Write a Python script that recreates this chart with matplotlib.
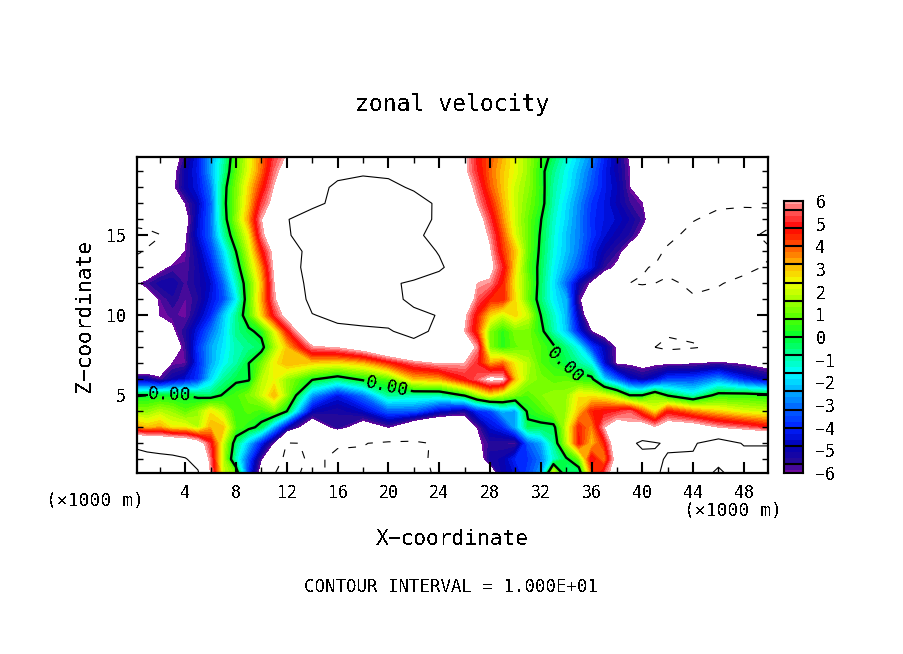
#!/usr/bin/env python3
# zonal velocity cross section
import numpy as np
import matplotlib
matplotlib.use('Agg')
import matplotlib.pyplot as plt
from matplotlib.colors import BoundaryNorm, LinearSegmentedColormap

plt.rcParams['font.family'] = 'DejaVu Sans Mono'
plt.rcParams['text.antialiased'] = False

x_km = list(range(0, 51, 2))
z_km = list(range(20, -1, -1))

# one row per height, top row is z=20
u_rows = [
  [-8.5,-7.5,-5.6,-2.6,0.7,3.7,6.1,7.2,8,8.5,8.5,8,7.5,6.3,4,2.3,0.6,-1.2,-2.8,-5,-7,-8,-8.5,-9,-9,-9],
  [-8.6,-7.6,-5,-2.5,0.9,3.8,6.8,8,9.3,9.6,9.5,9,8,6.3,3.8,2.3,0.3,-1.5,-3.2,-5,-7,-8,-8.7,-9.2,-9.2,-9.2],
  [-8.7,-7.6,-5,-3,1.2,4.4,7.5,9,10.5,11,10.6,9.7,8.5,7,4,2,0.4,-1.6,-3.4,-4.8,-7.5,-8.3,-8.9,-9.4,-9.5,-9.5],
  [-9,-8,-6,-3.3,1.2,5.2,7.5,9.5,10.5,11.5,11.5,11,9.6,7,4.6,2,0.4,-1.9,-3.8,-4.9,-6,-8,-9,-9.7,-9.8,-9.8],
  [-9.5,-8.5,-6.6,-3.2,1.4,6,9.9,11,12,12,12,11.2,9.5,8,5.2,2,0.05,-2,-3.9,-4.6,-5.7,-8,-9.9,-10.5,-10.6,-10.5],
  [-10.5,-10.1,-6.2,-3.2,0.8,5.6,9.8,11,12,12,12,10.5,9.2,7.5,5.8,2.2,-0.1,-2.2,-3.8,-5,-6.4,-9.5,-10.6,-11,-10.5,-9.6],
  [-10.2,-9.2,-6,-3.7,0,4.5,8.5,11,12,12,12,11.5,9.8,7.5,6.2,3,-0.2,-2.2,-4.2,-5.6,-8,-10.3,-11,-11,-10.3,-10.2],
  [-9.5,-6.4,-5.8,-4.2,-0.6,3.5,8.8,11,12,12,12,12,10.5,8,6.5,2.7,-0.3,-2.5,-4.3,-6.3,-9.9,-10.3,-10.3,-10.6,-10.4,-9.8],
  [-6.3,-5.2,-5.7,-4.6,-1.2,3,8,11,12,12,10.5,9.5,8.5,7.5,5.8,2.5,-0.4,-3.2,-6.3,-9.7,-10.1,-9.8,-10.2,-10.1,-9.6,-9.5],
  [-8,-5.9,-5.9,-4.4,-1.8,3.2,7.5,10.8,12,12,10.7,9.5,8.5,7.5,4.5,2.7,-0.5,-2.4,-7.5,-9.6,-9,-9,-9.9,-9.6,-9.3,-9.2],
  [-9,-6,-6,-4,-0.8,2.8,6.6,9.9,10.5,10.6,10.4,10.5,9.9,6.3,2.8,2.8,0,-2.3,-7.5,-9.3,-9.3,-9.2,-9.2,-9.1,-9,-8.9],
  [-9,-6.5,-5.4,-3.1,-0.7,0.3,4.5,8.5,9.5,9.7,9.9,10.4,9.7,6,1.3,1.2,0.3,-2.2,-6,-8.5,-9.5,-9.6,-9.5,-9,-8.8,-8.5],
  [-9,-8,-5.7,-2.5,-1,-0.4,3,5.8,6.1,7,8.5,9.5,9,7.2,1.3,1,0.8,-0.6,-3.7,-6.2,-9.3,-10.7,-10.2,-9.5,-9,-8.5],
  [-8.5,-7.5,-5.9,-2.5,-0.9,1.1,3.2,2.8,2.6,3,4.3,5.5,6.1,6,3.3,2.5,0.8,-0.2,-1.5,-6.2,-6.5,-6.2,-6.1,-5.8,-6.2,-6.6],
  [-5,-5.8,-4.5,-2,-0.2,1.8,1.5,0.1,-0.6,0.2,0.8,3,3.2,4.8,6.5,3,1.2,1,0.3,-3.2,-5,-3.6,-3.5,-2.7,-4,-5],
  [-0.1,0.1,0,-0.5,0.7,2,1.5,-2.6,-4.3,-3,-0.8,-1,-1,0.1,2.5,1.2,1.3,1.5,2.5,1.5,0,-0.1,-1.2,0.4,0.5,0.3],
  [1.5,1.8,0.9,2.6,0.5,0.6,0,-4.9,-5.3,-4.7,-3.3,-3.3,-4.6,-5.4,-3.6,-2.5,0.7,1.6,4.5,5,4,4.6,3.5,2.8,2.2,2],
  [3.5,3.3,2.5,3.2,0.8,-0.3,-4.8,-7.5,-5.5,-7,-6,-8,-9,-8,-4.5,-2.5,-0.3,2,3.5,7,7,7,7,6,5.5,4.8],
  [9.5,8.5,8,5,-0.6,-4.2,-10.1,-9.9,-9.9,-9.9,-10.4,-10.3,-9.8,-7.5,-5.5,-5.8,-2.5,1.8,3,7.5,10.6,9.7,9.7,11.5,9.8,9.8],
  [11,10.8,10.2,5.5,-1.2,-6,-10.5,-9.8,-10.2,-10.4,-11,-10.5,-9.6,-9,-5.2,-4,-3,-0.2,5,7,9,10.2,10.3,11,11,11],
  [12,12,12,6,1.2,-7,-10.5,-9.5,-10.5,-11,-11,-11,-9.6,-9,-8,-4.5,-2.5,-0.5,3.5,7,9,11,12,9,12,12],
]

# odd x columns where the structure is narrower than 2 km, z=20 down to z=0
u_x1 = [-8,-8,-8.2,-8.5,-9.5,-10.3,-9.9,-7.5,-5.7,-6.8,-8,-8.5,-8.5,-8,-5.1,0,1.4,3,8.8,11,12]
u_x3 = [-6.7,-6.5,-6.3,-7,-7.5,-7.5,-7.5,-5.8,-5.1,-5.4,-5.8,-6.2,-7,-6,-5,0.05,1.5,2.5,8.3,10.6,12]
u_x5 = [-4.2,-4.2,-4.3,-4.8,-4.6,-4.5,-5,-5.2,-5.2,-5.4,-5,-4.3,-3.8,-4,-3.8,-0.3,1.5,1.8,7,9,10.5]
u_x7 = [-1,-0.8,-0.4,-0.3,-0.5,-1,-2,-2.5,-3.2,-3.5,-2.2,-2,-1.8,-1.6,-0.8,0.1,1.8,3,2,1.8,2]
u_x9 = [2.2,2.3,2.8,3,3.4,2.5,2,1.5,0.8,0.8,0.7,-0.2,-0.7,0,-0.1,1.2,0.9,0.3,-2.3,-3.5,-4]
u_x11 = [5.2,5.6,6.1,6.5,8,7.5,6.5,6.3,6,5.8,5,2.2,1.6,2.5,2.4,3.2,1.2,-2.5,-6.2,-9,-10]
u_x27 = [4.8,5,5.5,6,6.8,7,7,7.2,6,5.5,4.5,4.2,5.8,5,5.5,1.5,-4,-6,-6.3,-7,-8]
u_x29 = [3.2,3,3,3.2,3.5,4,4.3,5,4.5,4.5,2,0.4,0.4,3.8,6.3,1.8,-2.3,-4,-5.6,-5,-5]
u_x31 = [1.5,1.5,1.4,1.2,1,1,1,0.8,1.1,1,2,1.2,1.2,1.8,1.6,0.8,0.3,-0.3,-3.3,-3.8,-3.5]
u_x33 = [-0.3,-0.7,-0.9,-1,-1.2,-1.3,-1.4,-1.6,-1.8,-1.7,-1.2,-1,0.2,0.4,0.9,1.5,1.3,-0.3,-0.8,-1.3,3]
u_x35 = [-2,-2.3,-2.5,-2.8,-2.9,-2.9,-3,-3.4,-5,-5.8,-5,-4.3,-1.6,-0.8,0.5,2.6,3,4.5,4.6,1,-1]
u_x37 = [-4,-4.2,-4.2,-4.3,-4.3,-4.5,-5,-5.6,-7.5,-9,-8.8,-6.8,-4.8,-4.5,-2,2.3,4.8,6,4.5,3.5,5.5]
u_x39 = [-6.2,-6,-6,-5.6,-5.1,-5.4,-6.8,-8,-10,-9.4,-9.3,-9,-7.5,-6.2,-4.5,0,5.5,6.3,9.3,8.5,8.5]
u_x41 = [-7.5,-7.5,-8,-7,-7,-8,-9.5,-10.1,-10,-9.2,-9.2,-9.5,-10,-6.3,-4.5,1.2,2.5,6.2,10.2,9.6,9.5]
odd_x = [1, 3, 5, 7, 9, 11, 27, 29, 31, 33, 35, 37, 39, 41]
odd_columns = [u_x1, u_x3, u_x5, u_x7, u_x9, u_x11, u_x27, u_x29, u_x31, u_x33, u_x35, u_x37, u_x39, u_x41]

# colour at each value, from the colour bar
cbar_values = [-6, -5.6, -4.8, -4, -3.2, -2.4, -1.6, -0.8, 0, 0.8, 1.6, 2.4, 3.2, 4, 4.8, 5.6, 6]
cbar_colors = ['#6e0aa0', '#2a0a96', '#0000b4', '#0020ff', '#0060ff', '#00b0ff', '#00ffff', '#00ff9a',
               '#00ff30', '#50ff00', '#a0ff00', '#f0ff00', '#ffb400', '#ff5000', '#ff0000', '#ff6464', '#ffa0a0']
cbar_labels = [6, 5, 4, 3, 2, 1, 0, -1, -2, -3, -4, -5, -6]
zero_label_pos = [(2.8, 5.0), (19.8, 5.2), (34.2, 7.2)]

W, H = 904.0, 654.0
fig = plt.figure(figsize=(9.04, 6.54), dpi=100)
ax = fig.add_axes([137/W, 1-473/H, (768-137)/W, (473-157)/H])

# merge the even and odd columns, sorted by x
xs = np.array(x_km + odd_x)
u = np.hstack([np.array(u_rows), np.array(odd_columns).T])
order = np.argsort(xs)
xs = xs[order]
u = u[:, order]

vmin, vmax = cbar_values[0], cbar_values[-1]
cmap = LinearSegmentedColormap.from_list('zonal', [((v-vmin)/(vmax-vmin), c) for v, c in zip(cbar_values, cbar_colors)], N=256)
# three shades per colour bar box
levels = [-6] + [k*0.8/3 for k in range(-22, 23)] + [6]
norm = BoundaryNorm(levels, cmap.N)

cf = ax.contourf(xs, z_km, u, levels=levels, cmap=cmap, norm=norm, antialiased=False)
ax.contour(xs, z_km, u, levels=[10], colors='k', linewidths=0.8, linestyles='solid')
ax.contour(xs, z_km, u, levels=[-10], colors='k', linewidths=0.8, linestyles=[(0, (7, 9))])
cs = ax.contour(xs, z_km, u, levels=[0], colors='k', linewidths=1.7, linestyles='solid')
ax.clabel(cs, fmt='%.2f', fontsize=13, inline=True, inline_spacing=2, manual=zero_label_pos)

ax.set_xlim(0.2, 49.9)
ax.set_ylim(0.14, 19.9)
ax.set_xticks(range(4, 49, 4))
ax.set_xticks(range(2, 50, 4), minor=True)
ax.set_yticks([5, 10, 15])
ax.set_yticks([v for v in range(1, 20) if v % 5], minor=True)
ax.tick_params(which='major', direction='in', top=True, right=True, length=8, width=1.5, labelsize=12, pad=8)
ax.tick_params(which='minor', direction='in', top=True, right=True, length=4, width=1)
for s in ax.spines.values():
  s.set_linewidth(1.6)

# colour bar
cax = fig.add_axes([784/W, 1-473/H, (803-784)/W, (473-201)/H])
cax.pcolormesh([0, 1], levels, np.array(levels[:-1])[:, None] + 1e-6, cmap=cmap, norm=norm, antialiased=False)
for v in [k*0.8 for k in range(-7, 8)]:
  cax.axhline(v, color='k', lw=1.5)
cax.set_xticks([])
cax.set_ylim(-6, 6)
cax.yaxis.tick_right()
cax.set_yticks(cbar_labels)
cax.set_yticklabels([str(v).replace('-', '\u2212') for v in cbar_labels])
cax.tick_params(axis='y', length=0, labelsize=12, pad=9)
for s in cax.spines.values():
  s.set_linewidth(1.5)

def put(px, py, txt, size, **kw):
  fig.text(px/W, 1-py/H, txt, fontsize=size, ha=kw.pop('ha', 'center'), va='center', **kw)

put(452, 104, 'zonal velocity', 16.7)
put(452, 539, 'X\u2212coordinate', 15.3)
put(84, 315, 'Z\u2212coordinate', 15.3, rotation=90)
put(451, 587, 'CONTOUR INTERVAL = 1.000E+01', 12.5)
put(95, 501, '(\u00d71000 m)', 13)
put(733, 511, '(\u00d71000 m)', 13)

fig.savefig('out.png', dpi=100)
